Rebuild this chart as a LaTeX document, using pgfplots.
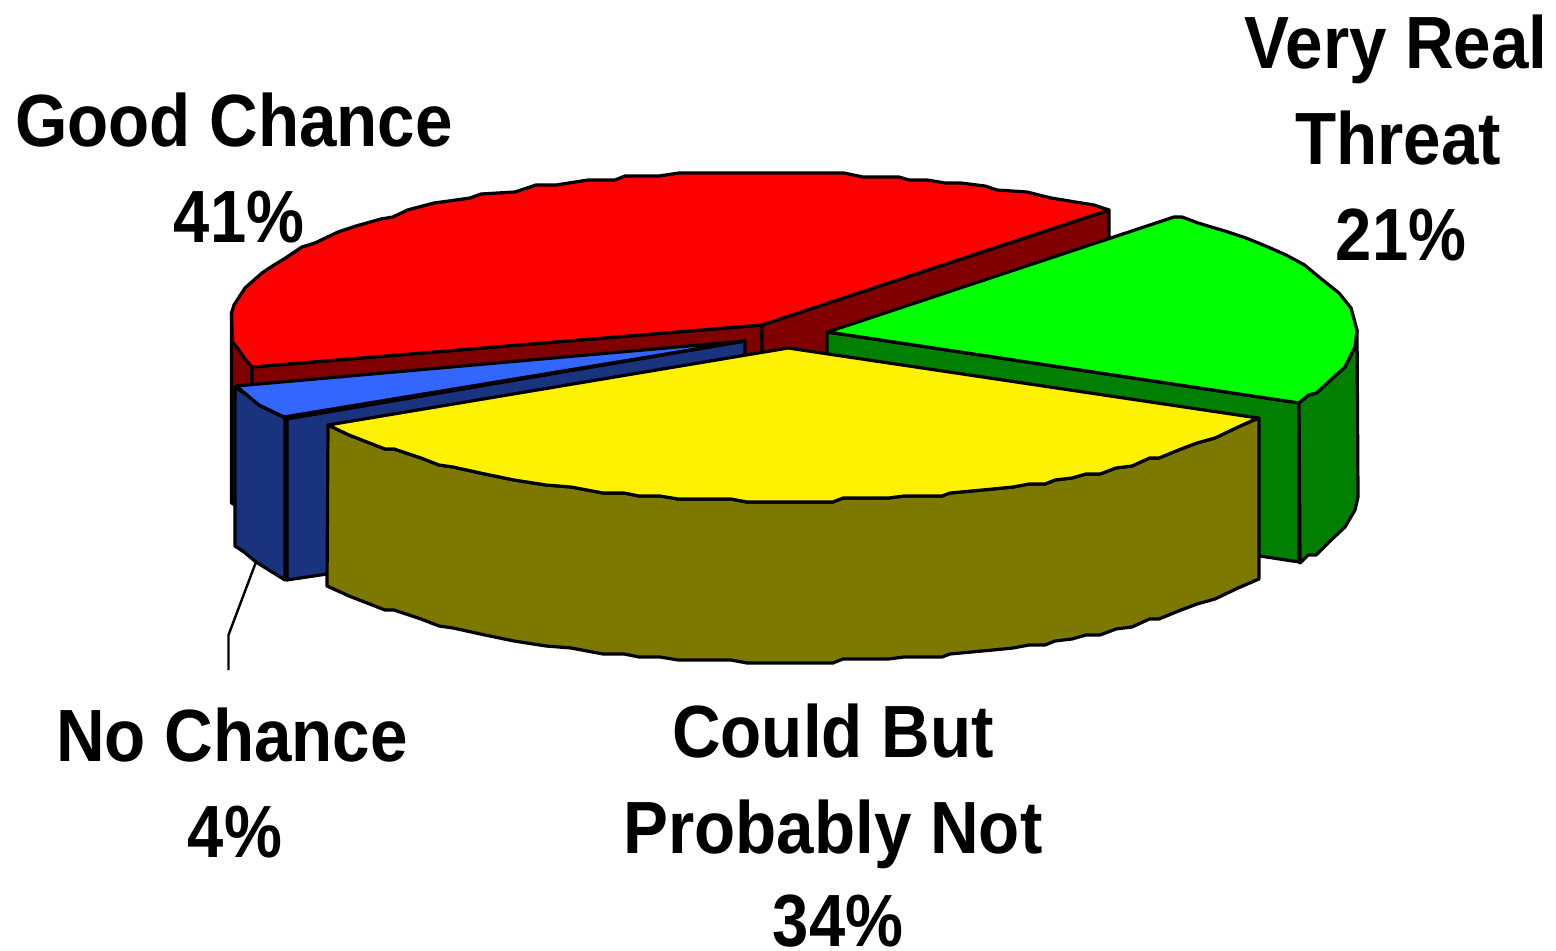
\documentclass[border=0pt]{standalone}
\usepackage{fontspec}
\setmainfont{Liberation Sans}
\usepackage{pgfplots}
\pgfplotsset{compat=1.18}
\definecolor{redtop}{HTML}{FF0000}
\definecolor{redside}{HTML}{800000}
\definecolor{greentop}{HTML}{00FF00}
\definecolor{greenside}{HTML}{007F00}
\definecolor{bluetop}{HTML}{3366FF}
\definecolor{blueside}{HTML}{1A337F}
\definecolor{yellowtop}{HTML}{FFF200}
\definecolor{yellowside}{HTML}{7D7800}
\tikzset{
  lab/.style={anchor=base, xscale=0.91, inner sep=0pt, font=\fontsize{37}{37}\selectfont\bfseries},
}
\begin{document}
\begin{tikzpicture}
\useasboundingbox (0,0) rectangle (778pt,475.5pt);
\begin{axis}[
    scale only axis,
    width=778pt,
    height=475.5pt,
    xmin=0, xmax=1556,
    ymin=0, ymax=951,
    y dir=reverse,
    hide axis,
    clip=false,
    every axis plot/.append style={draw=black, line width=1.6pt, line join=round},
]
% red slice, walls first
\addplot[fill=redside] coordinates {(231.5,313) (231.5,503) (252,515) (252,367)} -- cycle;
\addplot[fill=redside] coordinates {(252,367) (762,325) (762,365) (252,400)} -- cycle;
\addplot[fill=redside] coordinates {(762,325) (1109,210) (1109,245) (827,340) (827,360) (762,365)} -- cycle;
\addplot[fill=redtop] coordinates {
 (252,367) (245,359) (239,350) (232.5,342) (231.5,313) (234,305) (245,288) (262,273)
 (274,265) (284,259) (302,247) (315,243) (338,232) (356,226) (381,219) (393,217)
 (407.5,210) (434,203) (449,201) (470,198) (481,194) (515,192) (536,185) (556,185)
 (588,180) (615,180) (625,176) (659,176) (679,173) (844,173) (863,177) (899,177)
 (909,180) (927,180) (945,183) (961,183) (985,186) (997,190) (1027,192) (1051,198)
 (1081.5,203) (1094,205) (1109,210) (762,325)} -- cycle;
% green slice
\addplot[fill=greenside] coordinates {(827,332) (1299,403) (1299,562) (1260,556) (827,500)} -- cycle;
\addplot[fill=greenside] coordinates {
 (1299,403) (1308.5,395) (1316.5,393) (1330.6,380) (1345,367) (1355,347) (1357,330)
 (1358,497) (1355,510) (1345,527) (1329,542) (1316,555) (1308,555) (1300,563)} -- cycle;
\addplot[fill=greentop] coordinates {
 (827.6,332) (1174,217) (1182,217) (1198,223) (1228,232) (1246,238) (1268,247) (1286,255)
 (1304.5,265) (1322.6,280) (1339,293) (1351,308) (1357,330) (1355,347) (1345,367)
 (1330.6,380) (1316.5,393) (1308.5,395) (1299,403)} -- cycle;
% blue slice
\addplot[fill=blueside] coordinates {(287,419) (745,341) (745,400) (327,574) (287,580)} -- cycle;
\addplot[fill=blueside] coordinates {
 (235,387) (247,395) (259,405) (285,418) (285,580) (256,562) (244,552) (235,546)} -- cycle;
\addplot[fill=bluetop] coordinates {(236,386) (745,341) (284,417) (259,405) (247,395)} -- cycle;
% yellow slice
\addplot[fill=yellowside] coordinates {
 (328,425) (349,435) (367,442) (385,449) (394,449) (421,458) (439,465) (453,467)
 (485,474) (514,480) (546,485) (571,487) (603,493) (624,493) (639,496) (660,496)
 (678,499) (731,499) (747,502) (833,502) (843,498) (888.5,498) (904,496) (942,496)
 (950,493) (993,489) (1013,487) (1029,484) (1045,484) (1055,480) (1072,478) (1086,474)
 (1100,474) (1116,468) (1132,466) (1149.5,458) (1159,458) (1181,449) (1197,443)
 (1215,438) (1238,427) (1259,418)
 (1259,579) (1238,588) (1215,599) (1197,604) (1181,610) (1159,619) (1149.5,619)
 (1132,627) (1116,629) (1100,635) (1086,635) (1072,639) (1055,641) (1045,645)
 (1029,645) (1013,648) (993,650) (950,654) (942,657) (904,657) (888.5,659) (843,659)
 (833,663) (747,663) (731,660) (678,660) (660,657) (639,657) (624,654) (603,654)
 (571,648) (546,646) (514,641) (485,635) (453,628) (439,626) (421,619) (394,610)
 (385,610) (367,603) (349,596) (327,586)} -- cycle;
\addplot[fill=yellowtop] coordinates {
 (788,348) (1258,418) (1238,427) (1215,438) (1197,443) (1181,449) (1159,458) (1149.5,458)
 (1132,466) (1116,468) (1100,474) (1086,474) (1072,478) (1055,480) (1045,484) (1029,484)
 (1013,487) (993,489) (950,493) (942,496) (904,496) (888.5,498) (843,498) (833,502)
 (747,502) (731,499) (678,499) (660,496) (639,496) (624,493) (603,493) (571,487)
 (546,485) (514,480) (485,474) (453,467) (439,465) (421,458) (394,449) (385,449)
 (367,442) (349,435) (328,425)} -- cycle;
% leader line for the small slice
\addplot[line width=1.2pt] coordinates {(256,562) (228.5,635) (228.5,670)};
% labels
\node[lab] at (axis cs:234,147) {Good Chance};
\node[lab, xscale=0.88/0.91] at (axis cs:239,243) {41\%};
\node[lab] at (axis cs:1396,69) {Very Real};
\node[lab] at (axis cs:1398,165) {Threat};
\node[lab, xscale=0.88/0.91] at (axis cs:1401,261) {21\%};
\node[lab] at (axis cs:232,761) {No Chance};
\node[lab, xscale=0.88/0.91] at (axis cs:235,857) {4\%};
\node[lab] at (axis cs:833,757) {Could But};
\node[lab] at (axis cs:833,853) {Probably Not};
\node[lab, xscale=0.88/0.91] at (axis cs:838,946) {34\%};
\end{axis}
\end{tikzpicture}
\end{document}
